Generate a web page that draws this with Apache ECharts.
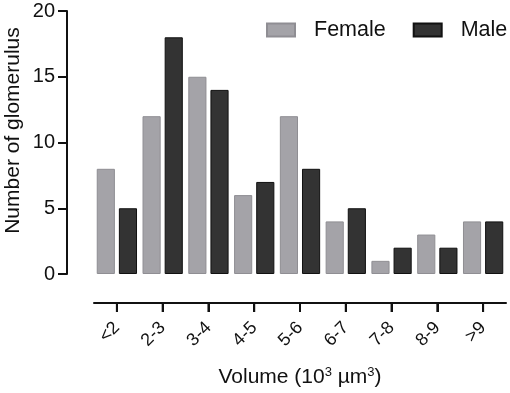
<!DOCTYPE html>
<html>
<head>
<meta charset="utf-8">
<script src="https://cdn.jsdelivr.net/npm/echarts@6/dist/echarts.min.js"></script>
<style>
  html, body { margin: 0; padding: 0; background: #fff; }
  #main { width: 510px; height: 393px; }
  #err { position: absolute; left: 100px; top: 40px; font: 11px sans-serif; color: red; width: 300px; }
</style>
</head>
<body>
<div id="main"></div>
<div id="err"></div>
<script>
window.onerror = function (m) { document.getElementById('err').textContent += ' ' + m; };
// data
var categories = ['<2', '2-3', '3-4', '4-5', '5-6', '6-7', '7-8', '8-9', '>9'];
var female = [8, 12, 15, 6, 12, 4, 1, 3, 4];
var male = [5, 18, 14, 7, 8, 5, 2, 2, 4];
var yTicks = [0, 5, 10, 15, 20];

var chart = echarts.init(document.getElementById('main'), null, { renderer: 'canvas' });
var font = 'Liberation Sans, Arial, sans-serif';
var xOffset = 29;

var option = {
  animation: false,
  textStyle: { fontFamily: font },
  legend: {
    orient: 'horizontal',
    left: 261,
    top: 14,
    width: 249,
    icon: 'rect',
    itemWidth: 28,
    itemHeight: 13,
    itemGap: 27,
    textStyle: { fontSize: 21.5, lineHeight: 22, color: '#111', fontFamily: font, padding: [0, 0, 0, 14] },
    data: ['Female', 'Male']
  },
  grid: { left: 94, right: 4, top: 11, bottom: 119, containLabel: false, outerBoundsMode: 'none' },
  xAxis: {
    type: 'category',
    data: categories,
    offset: xOffset,
    name: 'Volume (10{sup|3} µm{sup|3})',
    nameLocation: 'middle',
    nameGap: 63,
    nameMoveOverlap: false,
    nameTextStyle: {
      fontSize: 21, color: '#111', fontFamily: font,
      rich: { sup: { fontSize: 13, verticalAlign: 'top', padding: [0, 0, 10, 0], color: '#111' } }
    },
    axisLine: { show: true, onZero: false, lineStyle: { color: '#111', width: 2 } },
    axisTick: { show: true, alignWithLabel: true, length: 9, lineStyle: { color: '#111', width: 2 } },
    axisLabel: { rotate: 45, fontSize: 18, color: '#111', margin: 22, fontFamily: font }
  },
  yAxis: {
    type: 'value',
    min: 0,
    max: yTicks[yTicks.length - 1],
    interval: 5,
    offset: 27,
    name: 'Number of glomerulus',
    nameLocation: 'middle',
    nameGap: 43,
    nameMoveOverlap: false,
    nameTextStyle: { fontSize: 21, color: '#111', fontFamily: font, padding: [0, 0, 0, 24] },
    axisLine: { show: true, lineStyle: { color: '#111', width: 2 } },
    axisTick: { show: true, length: 9, lineStyle: { color: '#111', width: 2 } },
    axisLabel: { fontSize: 20, color: '#111', margin: 12, fontFamily: font },
    splitLine: { show: false }
  },
  series: [
    {
      name: 'Female',
      type: 'bar',
      data: female,
      barGap: '22%',
      barCategoryGap: '12%',
      itemStyle: { color: '#a4a3a8', borderColor: '#8f8e93', borderWidth: 1 }
    },
    {
      name: 'Male',
      type: 'bar',
      data: male,
      itemStyle: { color: '#333333', borderColor: '#111', borderWidth: 1 }
    }
  ]
};

chart.setOption(option);

// x ticks under the offset axis line, placed through the axis scale
var tickLines = categories.map(function (c, i) {
  var p = chart.convertToPixel({ seriesIndex: 0 }, [i, 0]);
  var y0 = p[1] + xOffset;
  return {
    type: 'rect',
    z: 100,
    silent: true,
    shape: { x: p[0] - 1, y: y0, width: 2, height: 9 },
    style: { fill: '#111' }
  };
});
chart.setOption({ graphic: { elements: tickLines } });
</script>
</body>
</html>
